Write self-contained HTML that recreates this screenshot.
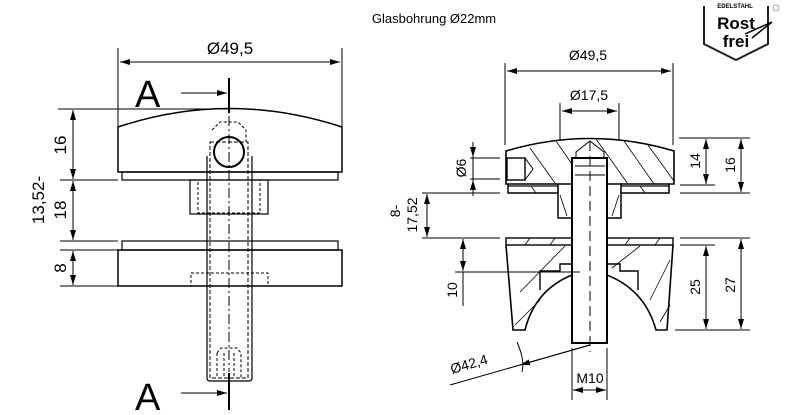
<!DOCTYPE html>
<html><head><meta charset="utf-8"><style>
html,body{margin:0;padding:0;background:#fff;}
svg{display:block;}
text{font-family:"Liberation Sans",Arial,sans-serif;fill:#000;}
</style></head><body>
<svg width="797" height="415" viewBox="0 0 797 415" xmlns="http://www.w3.org/2000/svg">
<defs>
<marker id="ar" viewBox="0 0 10 6" refX="10" refY="3" markerWidth="10" markerHeight="6" orient="auto-start-reverse" markerUnits="userSpaceOnUse"><path d="M0,0L10,3L0,6z" fill="#000"/></marker>
</defs>
<text x="434" y="23" font-size="13" text-anchor="middle">Glasbohrung Ø22mm</text>
<!-- logo -->
<g>
<path d="M704,6 V44 L736,60 L768,44 V6" fill="none" stroke="#222" stroke-width="2"/>
<text x="735" y="8" font-size="6" font-weight="bold" text-anchor="middle">EDELSTAHL</text>
<text x="736" y="29" font-size="17" font-weight="bold" text-anchor="middle">Rost</text>
<text x="736" y="47" font-size="17" font-weight="bold" text-anchor="middle">frei</text>
<path d="M745,34 L772,22 L752,38" fill="none" stroke="#000" stroke-width="1.5"/>
<circle cx="776" cy="8" r="3" fill="none" stroke="#888" stroke-width="0.8"/>
</g>

<!-- LEFT VIEW -->
<g fill="none" stroke="#000" stroke-width="1">
<line x1="118" y1="48" x2="118" y2="127"/><line x1="342" y1="48" x2="342" y2="127"/>
<line x1="120" y1="62" x2="340" y2="62" marker-start="url(#ar)" marker-end="url(#ar)"/>
<line x1="229" y1="78" x2="229" y2="113" stroke-width="2"/>
<line x1="181" y1="93" x2="227" y2="93" marker-end="url(#ar)"/>
<line x1="229" y1="373" x2="229" y2="410" stroke-width="2"/>
<line x1="181" y1="393" x2="227" y2="393" marker-end="url(#ar)"/>
<line x1="58" y1="109" x2="228" y2="109"/>
<path d="M118,127 Q229,90 342,127 V172 H118 Z" stroke-width="1.5"/>
<rect x="122" y="172" width="216" height="8" stroke-width="1.2"/>
<rect x="190" y="180" width="78" height="34" stroke-width="1.2"/>
<rect x="198" y="180" width="62" height="33" stroke-dasharray="3,2"/>
<rect x="122" y="241" width="216" height="9" stroke-width="1.2"/>
<rect x="118" y="250" width="224" height="36" stroke-width="1.5"/>
<rect x="191" y="273" width="77" height="13" stroke-dasharray="3,2"/>
<path d="M207,156 V378 Q207,381 210,381 H249 Q252,381 252,378 V156" stroke-width="1.2"/>
<rect x="210" y="142" width="38" height="236" stroke-dasharray="4,2"/>
<path d="M212,130 L220,122 H238 L246,130 V142" stroke-dasharray="3,2"/>
<circle cx="229" cy="152" r="15" stroke-width="2"/>
<path d="M217,353 L221,348 H237 L241,353 V378 M217,353 V378 M224,353 V378 M234,353 V378" stroke-dasharray="3,2"/>
<line x1="229" y1="116" x2="229" y2="372" stroke-dasharray="10,3,2,3"/>
<line x1="60" y1="180" x2="118" y2="180"/>
<line x1="60" y1="241" x2="118" y2="241"/>
<line x1="60" y1="250" x2="118" y2="250"/>
<line x1="60" y1="286" x2="118" y2="286"/>
<line x1="73" y1="110" x2="73" y2="179" marker-start="url(#ar)" marker-end="url(#ar)"/>
<line x1="73" y1="181" x2="73" y2="240" marker-start="url(#ar)" marker-end="url(#ar)"/>
<line x1="73" y1="251" x2="73" y2="285" marker-start="url(#ar)" marker-end="url(#ar)"/>
</g>
<text x="230" y="54" font-size="17" text-anchor="middle">Ø49,5</text>
<text x="135" y="107" font-size="38">A</text>
<text x="135" y="410" font-size="38">A</text>
<text font-size="17" text-anchor="middle" transform="translate(66,145) rotate(-90)">16</text>
<text font-size="17" text-anchor="middle" transform="translate(66,210) rotate(-90)">18</text>
<text font-size="17" text-anchor="middle" transform="translate(44,200) rotate(-90)">13,52-</text>
<text font-size="17" text-anchor="middle" transform="translate(66,268) rotate(-90)">8</text>

<!-- RIGHT VIEW -->
<g fill="none" stroke="#000" stroke-width="1">
<line x1="505" y1="63" x2="505" y2="145"/><line x1="673" y1="63" x2="673" y2="145"/>
<line x1="507" y1="71" x2="671" y2="71" marker-start="url(#ar)" marker-end="url(#ar)"/>
<line x1="560" y1="103" x2="560" y2="140"/><line x1="619" y1="103" x2="619" y2="140"/>
<line x1="562" y1="111" x2="617" y2="111" marker-start="url(#ar)" marker-end="url(#ar)"/>
<!-- cap -->
<path d="M506,151 Q590,126 674,151 V184 H506 Z" stroke-width="1.6"/>
<path d="M508,184 V193 H558 V218 H572" stroke-width="1.5"/>
<path d="M669,184 V193 H621 V218 H607" stroke-width="1.5"/>
<path d="M558,184 V193 M621,184 V193" stroke-width="1.5"/>
<line x1="508" y1="186" x2="558" y2="186" stroke-width="1.2"/>
<line x1="621" y1="186" x2="669" y2="186" stroke-width="1.2"/>
<rect x="507" y="158" width="18" height="22" stroke-width="1.4"/>
<path d="M525,158 L533,169 L525,180"/>
<!-- hatching cap -->
<g stroke-width="0.8">
<line x1="530" y1="148" x2="555" y2="183"/><line x1="556" y1="141" x2="585" y2="183"/>
<line x1="596" y1="139" x2="628" y2="184"/><line x1="624" y1="141" x2="654" y2="184"/>
<line x1="648" y1="145" x2="674" y2="181"/><line x1="531" y1="186" x2="536" y2="193"/>
<line x1="560" y1="195" x2="567" y2="216"/><line x1="612" y1="216" x2="619" y2="195"/>
<line x1="640" y1="186" x2="645" y2="193"/>
</g>
<!-- shaft -->
<rect x="572" y="158" width="35" height="185" stroke-width="2" fill="#fff"/>
<path d="M576,158 V152 L590,141 L604,152 V158 M575,166 H605 M575,175 H605"/>
<line x1="590" y1="141" x2="590" y2="352" stroke-dasharray="10,5"/>
<!-- lower part -->
<rect x="506" y="238" width="66" height="7" stroke-width="1.4"/>
<rect x="607" y="238" width="66" height="7" stroke-width="1.4"/>
<path d="M506,245 L513,330 H525 Q535,290 572,275 M607,275 Q645,290 656,330 H667 L673,245" stroke-width="1.6"/>
<path d="M540,290 V271 H560 V264 H572 M607,264 H620 V271 H638 V290" stroke-width="1.4"/>
<g stroke-width="0.8">
<line x1="520" y1="292" x2="565" y2="246"/><line x1="515" y1="325" x2="540" y2="300"/>
<line x1="612" y1="268" x2="640" y2="246"/><line x1="650" y1="300" x2="670" y2="260"/>
<line x1="660" y1="322" x2="670" y2="305"/>
<line x1="525" y1="245" x2="530" y2="238"/><line x1="550" y1="245" x2="555" y2="238"/>
<line x1="625" y1="245" x2="630" y2="238"/><line x1="655" y1="245" x2="660" y2="238"/>
</g>
<!-- dims right -->
<line x1="679" y1="138" x2="750" y2="138"/>
<line x1="680" y1="185" x2="715" y2="185"/>
<line x1="680" y1="193" x2="750" y2="193"/>
<line x1="680" y1="238" x2="750" y2="238"/>
<line x1="680" y1="245" x2="715" y2="245"/>
<line x1="675" y1="330" x2="750" y2="330"/>
<line x1="706" y1="139" x2="706" y2="184" marker-start="url(#ar)" marker-end="url(#ar)"/>
<line x1="741" y1="139" x2="741" y2="192" marker-start="url(#ar)" marker-end="url(#ar)"/>
<line x1="706" y1="246" x2="706" y2="329" marker-start="url(#ar)" marker-end="url(#ar)"/>
<line x1="741" y1="239" x2="741" y2="329" marker-start="url(#ar)" marker-end="url(#ar)"/>
<!-- dims left -->
<line x1="470" y1="158" x2="500" y2="158"/><line x1="470" y1="179" x2="500" y2="179"/>
<line x1="473" y1="142" x2="473" y2="157" marker-end="url(#ar)"/>
<line x1="473" y1="196" x2="473" y2="180" marker-end="url(#ar)"/>
<line x1="473" y1="157" x2="473" y2="180"/>
<line x1="422" y1="193" x2="500" y2="193"/>
<line x1="422" y1="238" x2="500" y2="238"/>
<line x1="427" y1="194" x2="427" y2="237" marker-start="url(#ar)" marker-end="url(#ar)"/>
<line x1="455" y1="272" x2="580" y2="272"/>
<line x1="463" y1="239" x2="463" y2="271" marker-start="url(#ar)" marker-end="url(#ar)"/>
<line x1="463" y1="272" x2="463" y2="306"/>
<!-- M10 -->
<line x1="572" y1="348" x2="572" y2="400"/><line x1="607" y1="348" x2="607" y2="400"/>
<line x1="573" y1="390" x2="606" y2="390" marker-start="url(#ar)" marker-end="url(#ar)"/>
<!-- Ø42,4 -->
<line x1="450" y1="385" x2="590" y2="345"/>
<line x1="590" y1="345" x2="520" y2="365" marker-end="url(#ar)"/>
<path d="M517,342 Q525,360 522,372"/>
</g>
<text x="588" y="60" font-size="14" text-anchor="middle">Ø49,5</text>
<text x="589" y="100" font-size="14" text-anchor="middle">Ø17,5</text>
<text font-size="14" text-anchor="middle" transform="translate(700,161) rotate(-90)">14</text>
<text font-size="14" text-anchor="middle" transform="translate(735,165) rotate(-90)">16</text>
<text font-size="14" text-anchor="middle" transform="translate(700,287) rotate(-90)">25</text>
<text font-size="14" text-anchor="middle" transform="translate(735,285) rotate(-90)">27</text>
<text font-size="14" text-anchor="middle" transform="translate(466,168) rotate(-90)">Ø6</text>
<text font-size="14" text-anchor="middle" transform="translate(400,211) rotate(-90)">8-</text>
<text font-size="14" text-anchor="middle" transform="translate(417,215) rotate(-90)">17,52</text>
<text font-size="14" text-anchor="middle" transform="translate(457,290) rotate(-90)">10</text>
<text x="590" y="383" font-size="14" text-anchor="middle">M10</text>
<text font-size="14" transform="translate(452,374) rotate(-16)">Ø42,4</text>
</svg>
</body></html>
